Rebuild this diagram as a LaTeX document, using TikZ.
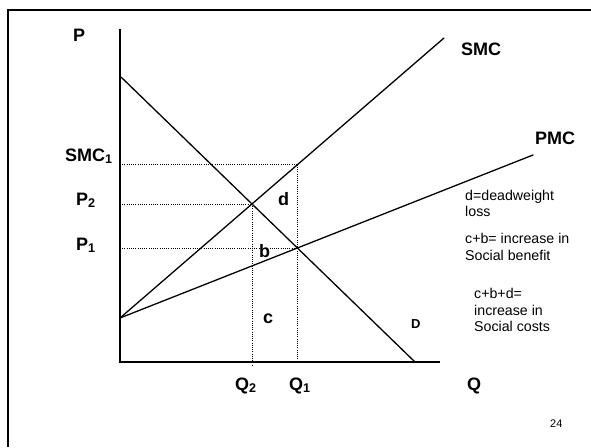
\documentclass[tikz,border=0pt]{standalone}
\usepackage{fontspec}
\setmainfont{Liberation Sans}
\usetikzlibrary{calc}
\tikzset{
  curve/.style={line width=1.3pt, line cap=round},
  axis/.style={line width=1.3pt},
  guide/.style={line width=0.9pt, dash pattern=on 1pt off 1.2pt},
  biglabel/.style={font=\fontsize{18}{20}\selectfont\bfseries, inner sep=0pt, anchor=base west},
  note/.style={font=\fontsize{14.2}{16.5}\selectfont, inner sep=0pt, anchor=base west, align=left},
}
\begin{document}
\begin{tikzpicture}[x=1pt,y=-1pt]
\useasboundingbox (0,0) rectangle (591,447);
% frame
\draw[line width=2pt] (8,447) coordinate (fa) -- (8,10) coordinate (fb) -- (591,10) coordinate (fc);
% axes
\coordinate (O) at (120,362);
\coordinate (Ytop) at (120,29);
\coordinate (Xend) at (440,362);
\draw[axis] (Ytop) -- (O) -- (Xend);
% curves
\coordinate (Dtop) at (121,77);
\coordinate (Dbot) at (415,362);
\coordinate (S0) at (120,318);
\coordinate (SMCend) at (444,38);
\coordinate (PMCend) at (533,155);
\draw[curve] (Dtop) -- (Dbot);
\draw[curve] (S0) -- (SMCend);
\draw[curve] (S0) -- (PMCend);
% intersections
\coordinate (E2) at (intersection of Dtop--Dbot and S0--SMCend);
\coordinate (E1) at (intersection of Dtop--Dbot and S0--PMCend);
\coordinate (E1u) at ($(E1)+(0,-20)$);
\coordinate (S1) at (intersection of S0--SMCend and E1--E1u);
% guides
\draw[guide] (O |- S1) -- (S1);
\draw[guide] (O |- E2) -- (E2);
\draw[guide] (O |- E1) -- (E1);
\draw[guide] (E2) -- ($(E2 |- O)+(0,4)$);
\draw[guide] (S1) -- (S1 |- O);
% labels
\node[biglabel] (lP) at (73,41) {P};
\node[biglabel] (lSMC1) at (65,161) {SMC\textsubscript{1}};
\node[biglabel] (lP2) at (76,205) {P\textsubscript{2}};
\node[biglabel] (lP1) at (76,250) {P\textsubscript{1}};
\node[biglabel] (ld) at (278,205) {d};
\node[biglabel] (lb) at (259,257) {b};
\node[biglabel] (lc) at (263,323) {c};
\node[font=\fontsize{13}{14}\selectfont\bfseries, inner sep=0pt, anchor=base west] (lD) at (411,328) {D};
\node[biglabel] (lQ2) at (235,390) {Q\textsubscript{2}};
\node[biglabel] (lQ1) at (289,390) {Q\textsubscript{1}};
\node[biglabel] (lQ) at (467,390) {Q};
\node[biglabel] (lSMC) at (461,55) {SMC};
\node[biglabel] (lPMC) at (535,144) {PMC};
% notes (base anchor = last line)
\node[note] (n1) at (465,216.7) {d=deadweight\\loss};
\node[note] (n2) at (465,260) {c+b= increase in\\Social benefit};
\node[note] (n3) at (474,331.7) {c+b+d=\\increase in\\Social costs};
\node[font=\fontsize{11}{12}\selectfont, inner sep=0pt, anchor=base west] (pg) at (550,427) {24};
\end{tikzpicture}
\end{document}
